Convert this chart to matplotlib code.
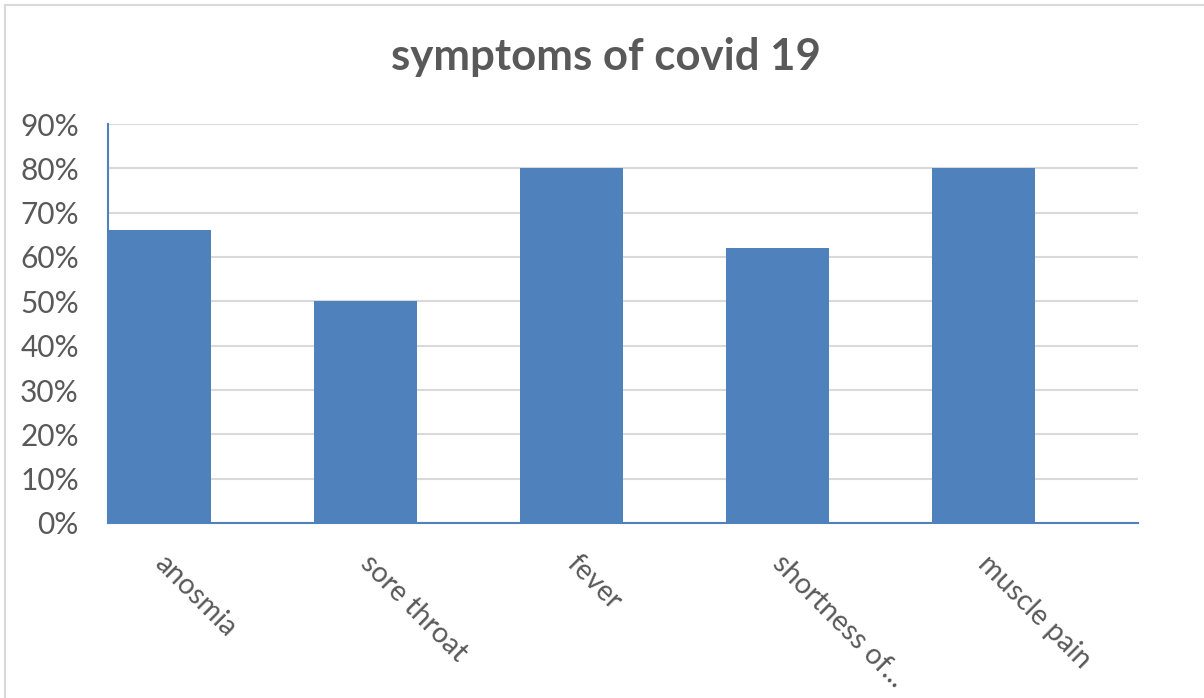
import matplotlib.pyplot as plt
from matplotlib.patches import Rectangle
from matplotlib.ticker import PercentFormatter

categories = ['anosmia', 'sore throat', 'fever', 'shortness of...', 'muscle pain']
values = [66, 50, 80, 62, 80]
y_ticks = [0, 10, 20, 30, 40, 50, 60, 70, 80, 90]

bar_color = '#4f81bd'
text_color = '#595959'
grid_color = '#d9d9d9'

plt.rcParams['font.family'] = ['Lato', 'DejaVu Sans']

W, H = 1204, 698
fig = plt.figure(figsize=(W / 100, H / 100), dpi=100)
fig.patch.set_facecolor('white')

# chart area frame (only top and left edges fall inside the image)
fig.add_artist(Rectangle((5 / W, -0.1), 1.2, 1 - 5 / H + 0.1,
                         transform=fig.transFigure, fill=False,
                         edgecolor='#d9d9d9', linewidth=1.5))

ax = fig.add_axes([108 / W, 1 - 523 / H, (1138 - 108) / W, (523 - 124) / H])

x = list(range(len(categories)))
ax.bar(x, values, width=0.5, align='edge', color=bar_color, zorder=3)

ax.set_xlim(0, len(categories))
ax.set_ylim(0, 90)
ax.set_yticks(y_ticks)
ax.yaxis.set_major_formatter(PercentFormatter(decimals=0))
ax.yaxis.grid(True, color=grid_color, linewidth=1.5, zorder=0)

for side in ['top', 'right']:
    ax.spines[side].set_visible(False)
for side in ['left', 'bottom']:
    ax.spines[side].set_color(bar_color)
    ax.spines[side].set_linewidth(1.5)
    ax.spines[side].set_zorder(4)

ax.tick_params(axis='y', length=0, pad=21, labelsize=21.5, labelcolor=text_color)
ax.tick_params(axis='x', length=0)
ax.set_xticks([])

# rotated category labels under each slot
for i, name in enumerate(categories):
    ax.text(i + 0.29, -6.2, name, rotation=-45, rotation_mode='anchor',
            ha='left', va='top', fontsize=20.5, color=text_color,
            transform=ax.transData, clip_on=False)

fig.text(0.503, 1 - 57 / H, 'symptoms of covid 19', ha='center', va='center',
         fontsize=31.5, fontweight='bold', color=text_color)

fig.savefig('out.png', dpi=100, facecolor='white')
